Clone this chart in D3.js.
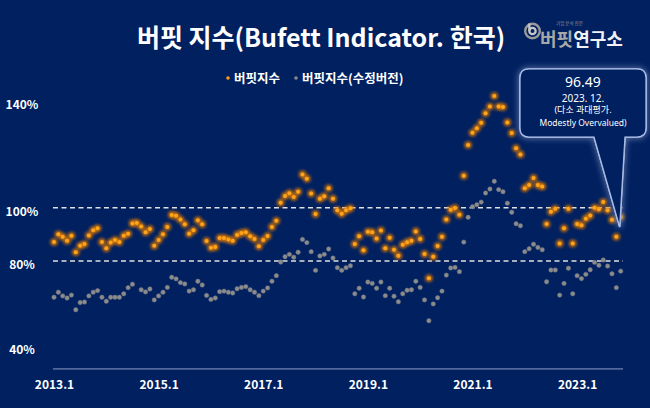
<!DOCTYPE html>
<html>
<head>
<meta charset="utf-8">
<script src="https://cdn.jsdelivr.net/npm/d3@7"></script>
<style>
	body { margin: 0; background: #002060; }
	svg { display: block; }
</style>
</head>
<body>
<script>
// monthly values, 2013.1 ~ 2023.12
var buffett = [
	87.1, 90.0, 89.1, 87.6, 89.5, 83.3, 85.7, 86.4, 89.6, 91.5, 92.3, 87.1, 84.8, 86.9, 87.9, 87.1, 89.5, 90.2, 94.1, 94.3, 92.9, 90.8, 92.0, 85.7, 87.9, 90.0,
	92.8, 97.3, 97.0, 95.6, 93.8, 90.2, 91.5, 95.3, 93.8, 87.5, 85.0, 85.3, 88.6, 88.6, 88.1, 87.6, 89.8, 90.5, 90.8, 89.3, 88.3, 85.5, 87.9, 89.4, 92.8, 95.1,
	101.9, 104.4, 105.4, 104.0, 106.0, 112.5, 110.9, 105.3, 97.6, 103.4, 104.3, 107.3, 103.4, 99.0, 97.7, 99.0, 99.8,
	86.4, 89.3, 84.0, 91.0, 90.8, 88.4, 91.4, 84.8, 88.7, 84.2, 82.0, 86.1, 87.0, 87.6, 91.1, 88.3,
	82.6, 73.5, 81.6, 85.6, 89.1, 95.6, 99.2, 99.9, 97.4, 112.0, 123.5, 128.1, 129.8, 131.9, 135.4, 138.0, 141.9, 138.0, 137.8, 132.0,
	128.0, 122.3, 120.0, 107.3, 108.5, 111.1, 108.5, 108.0, 93.9, 98.5, 99.6, 86.6, 92.3, 99.6, 86.6, 93.9, 93.4, 95.9, 97.1, 100.0, 99.4, 102.1, 99.0, 95.5, 89.1, 96.49
];

var buffettAdj = [
	66.4, 68.3, 66.9, 66.1, 67.2, 61.7, 64.4, 64.6, 66.9, 68.3, 68.9, 66.4, 64.9, 66.4, 66.4, 66.4, 67.7, 70.0, 71.3, null, 69.2, 68.4, 69.5, 65.4, 66.9, 68.3,
	70.1, 73.9, 73.3, 71.9, 71.4, 68.7, 69.2, 72.4, 71.0, 67.1, 65.6, 66.1, 68.5, 68.7, 68.3, 68.0, 69.6, 70.1, 70.4, 69.2, 68.3, 67.0, 68.7, 69.9, 72.4, 74.5,
	79.6, 81.6, 82.5, 81.4, 83.3, 88.1, 86.9, 83.5, 76.5, 81.9, 82.5, 84.5, 81.1, 77.5, 76.5, 77.5, 78.2,
	67.7, 69.8, 66.5, 72.1, 71.6, 69.8, 72.1, 67.0, 69.8, 66.8, 64.7, 67.7, 69.0, 69.2, 72.4, 70.1,
	65.4, 57.6, 63.9, 66.2, 68.7, 74.7, 77.4, 77.6, 76.0, 87.1, 96.4, 100.4, 101.1, 102.1, 105.5, 107.0, 109.9, 106.8, 106.0, 101.7,
	98.3, 94.0, 93.2, 83.5, 84.6, 86.3, 85.1, 84.2, 72.2, 76.6, 76.6, 67.2, 71.6, 77.3, 67.7, 74.5, 73.4, 75.0, 76.7, 79.5, 78.4, 80.4, 78.1, 75.2, 70.0, 76.2
];

var xTickLabels = ["2013.1", "2015.1", "2017.1", "2019.1", "2021.1", "2023.1"];
var xTickStep = 24;
var yTickValues = [140, 100, 80, 40];
var refLines = [100, 80];
var seriesNames = ["버핏지수", "버핏지수(수정버전)"];
var calloutLines = ["96.49", "2023. 12.", "(다소 과대평가.", "Modestly Overvalued)"];

var width = 650;
var height = 408;
var font = "'Noto Sans CJK KR', 'Noto Sans', sans-serif";

var svg = d3
	.select("body")
	.append("svg")
	.attr("width", width)
	.attr("height", height)
	.style("font-family", font);

svg.append("rect").attr("width", width).attr("height", height).attr("fill", "#002060");

var defs = svg.append("defs");
var glow = defs.append("filter").attr("id", "glowO").attr("x", "-100%").attr("y", "-100%").attr("width", "300%").attr("height", "300%");
glow.append("feGaussianBlur").attr("stdDeviation", 1.7);

var boxGlow = defs.append("filter").attr("id", "glowB").attr("x", "-20%").attr("y", "-20%").attr("width", "140%").attr("height", "140%");
boxGlow.append("feGaussianBlur").attr("in", "SourceGraphic").attr("stdDeviation", 3).attr("result", "b");
var merge = boxGlow.append("feMerge");
merge.append("feMergeNode").attr("in", "b");
merge.append("feMergeNode").attr("in", "SourceGraphic");

var x = d3.scaleLinear().domain([0, buffett.length - 1]).range([54, 620.7]);
var y = d3.scaleLinear().domain([40, 140]).range([367.6, 101.1]);
var plotLeft = 53;
var plotRight = 623;
var plotBottom = y(39.5);

// title
svg.append("text")
	.attr("x", 321)
	.attr("y", 47)
	.attr("text-anchor", "middle")
	.attr("fill", "#fff")
	.style("font-size", "25px")
	.style("font-weight", "bold")
	.text("버핏 지수(Bufett Indicator. 한국)");

// logo
var logo = svg.append("g").attr("transform", "translate(532.5,31)");
logo.append("circle").attr("r", 7.3).attr("fill", "none").attr("stroke", "#9a9a9a").attr("stroke-width", 2.4);
logo.append("path")
	.attr("d", d3.arc()({ innerRadius: 2, outerRadius: 4.3, startAngle: 0, endAngle: 2 * Math.PI }))
	.attr("fill", "#c8c8c8");
logo.append("rect").attr("x", -4.3).attr("y", -7.5).attr("width", 2.3).attr("height", 7.5).attr("fill", "#c8c8c8");
svg.append("text")
	.attr("x", 556)
	.attr("y", 25)
	.attr("fill", "#9a9a9a")
	.style("font-size", "4.5px")
	.text("기업 분석 전문");
var logoText = svg.append("text").attr("x", 540).attr("y", 45.5).style("font-size", "18px").style("font-weight", "bold");
logoText.append("tspan").attr("fill", "#a8a8a8").text("버핏");
logoText.append("tspan").attr("fill", "#f2f2f2").text("연구소");

// legend
var legend = svg.append("g").attr("transform", "translate(228,78)");
var legendX = [0, 68];
var legendColor = ["#ff9a1a", "#8a8a8a"];
seriesNames.forEach((name, i) => {
	legend.append("circle").attr("cx", legendX[i]).attr("cy", 0).attr("r", 1.8).attr("fill", legendColor[i]);
	legend.append("text")
		.attr("x", legendX[i] + 6)
		.attr("y", 4.5)
		.attr("fill", "#fff")
		.style("font-size", "12.5px")
		.style("font-weight", "bold")
		.text(name);
});

// reference lines
svg.selectAll(".ref")
	.data(refLines)
	.join("line")
	.attr("class", "ref")
	.attr("x1", plotLeft)
	.attr("x2", plotRight)
	.attr("y1", (d) => y(d))
	.attr("y2", (d) => y(d))
	.attr("stroke", "#e0e0e0")
	.attr("stroke-width", 1.5)
	.attr("stroke-dasharray", "5,3.5");

// y labels
svg.selectAll(".ylab")
	.data(yTickValues)
	.join("text")
	.attr("class", "ylab")
	.attr("x", 22)
	.attr("y", (d) => (d === 40 ? y(d) - 14 : y(d) + 8))
	.attr("text-anchor", "middle")
	.attr("fill", "#fff")
	.style("font-size", "12px")
	.style("font-weight", "bold")
	.text((d) => d + "%");

// x axis
var xAxis = svg.append("g").attr("transform", "translate(0," + plotBottom + ")");
xAxis.call(
	d3.axisBottom(x)
		.tickValues(xTickLabels.map((d, i) => i * xTickStep))
		.tickSize(0)
		.tickPadding(12)
		.tickFormat((d, i) => xTickLabels[i])
);
xAxis.select(".domain").attr("stroke", "#8e9cc6").attr("stroke-width", 1).attr("d", "M" + plotLeft + ",0H" + plotRight);
xAxis.selectAll("text")
	.attr("fill", "#fff")
	.style("font-family", font)
	.style("font-size", "12px")
	.style("font-weight", "bold");

// grey series
svg.selectAll(".adj")
	.data(buffettAdj.map((v, i) => ({ i: i, v: v })).filter((d) => d.v !== null))
	.join("circle")
	.attr("class", "adj")
	.attr("cx", (d) => x(d.i))
	.attr("cy", (d) => y(d.v))
	.attr("r", 2.2)
	.attr("fill", "#8c8c8c")
	.attr("stroke", "#6f7580")
	.attr("stroke-width", 0.5);

// orange series
var pts = buffett.map((v, i) => ({ i: i, v: v }));
svg.selectAll(".bglow")
	.data(pts)
	.join("circle")
	.attr("class", "bglow")
	.attr("cx", (d) => x(d.i))
	.attr("cy", (d) => y(d.v))
	.attr("r", 3.8)
	.attr("fill", "#e07a00")
	.attr("opacity", 0.85)
	.attr("filter", "url(#glowO)");
svg.selectAll(".bdot")
	.data(pts)
	.join("circle")
	.attr("class", "bdot")
	.attr("cx", (d) => x(d.i))
	.attr("cy", (d) => y(d.v))
	.attr("r", 2)
	.attr("fill", "#ffa31a");

// callout
var last = pts[pts.length - 1];
var tipX = x(last.i) - 1;
var tipY = y(last.v) + 10;
var bx = 520, by = 69, bw = 126, bh = 68, r = 9;
var baseL = 594, baseR = 625;
var callPath =
	"M" + (bx + r) + "," + by +
	"H" + (bx + bw - r) +
	"Q" + (bx + bw) + "," + by + " " + (bx + bw) + "," + (by + r) +
	"V" + (by + bh - r) +
	"Q" + (bx + bw) + "," + (by + bh) + " " + (bx + bw - r) + "," + (by + bh) +
	"H" + baseR +
	"L" + tipX + "," + tipY +
	"L" + baseL + "," + (by + bh) +
	"H" + (bx + r) +
	"Q" + bx + "," + (by + bh) + " " + bx + "," + (by + bh - r) +
	"V" + (by + r) +
	"Q" + bx + "," + by + " " + (bx + r) + "," + by + "Z";
svg.append("path")
	.attr("d", callPath)
	.attr("fill", "#002060")
	.attr("stroke", "#b4c6f0")
	.attr("stroke-width", 1.6)
	.attr("filter", "url(#glowB)");
svg.append("path")
	.attr("d", callPath)
	.attr("fill", "#002060")
	.attr("fill-opacity", 0.85)
	.attr("stroke", "#a9bce8")
	.attr("stroke-width", 1.2);

var callSizes = [14, 10, 9, 8.5];
var callY = [86.5, 101.5, 113, 125.5];
calloutLines.forEach((t, i) => {
	svg.append("text")
		.attr("x", bx + bw / 2)
		.attr("y", callY[i])
		.attr("text-anchor", "middle")
		.attr("fill", "#fff")
		.style("font-family", "'Noto Sans', 'Noto Sans CJK KR', sans-serif")
		.style("font-size", callSizes[i] + "px")
		.text(t);
});
</script>
</body>
</html>
